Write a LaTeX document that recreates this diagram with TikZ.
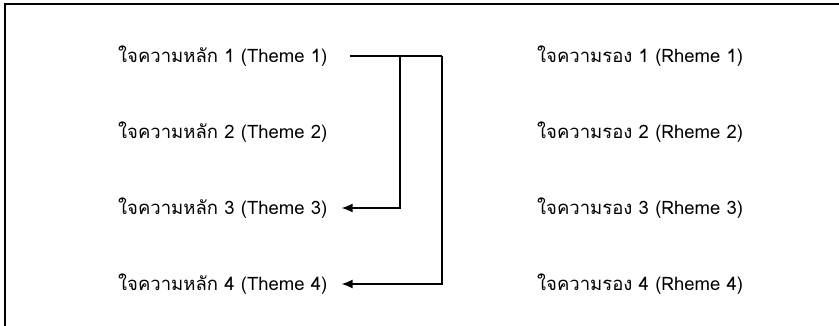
\documentclass[tikz,border=0pt]{standalone}
\usepackage{fontspec}
\usepackage{tikz}
\newfontfamily\thaifont[Script=Thai]{Loma}
\usetikzlibrary{arrows.meta,calc}

\begin{document}
\begin{tikzpicture}[x=1pt,y=-1pt,
    label/.style={anchor=west,inner sep=0pt,font=\thaifont\fontsize{18.5}{22}\selectfont},
    link/.style={line width=1.6pt,-{Latex[length=11pt,width=9pt]}}]
    \useasboundingbox (0,0) rectangle (839,326);
    % frame - top and left edge only
    \draw[line width=1.8pt] (5,326) -- (5,4) -- (839,4);
    % themes and rhemes
    \foreach \i/\y in {1/56, 2/132, 3/208, 4/284} {
        \node[label] (theme\i) at (118,\y) {ใจความหลัก \i\ (Theme \i)};
        \node[label] (rheme\i) at (537,\y) {ใจความรอง \i\ (Rheme \i)};
    }
    % connectors
    \coordinate (jA) at (400,56);
    \coordinate (jB) at (442,56);
    \draw[line width=1.6pt] ($(theme1.east)+(22,0)$) -- (jB);
    \draw[link] (jB) |- ($(theme4.east)+(14,0)$);
    \draw[link] (jA) |- ($(theme3.east)+(14,0)$);
\end{tikzpicture}
\end{document}
